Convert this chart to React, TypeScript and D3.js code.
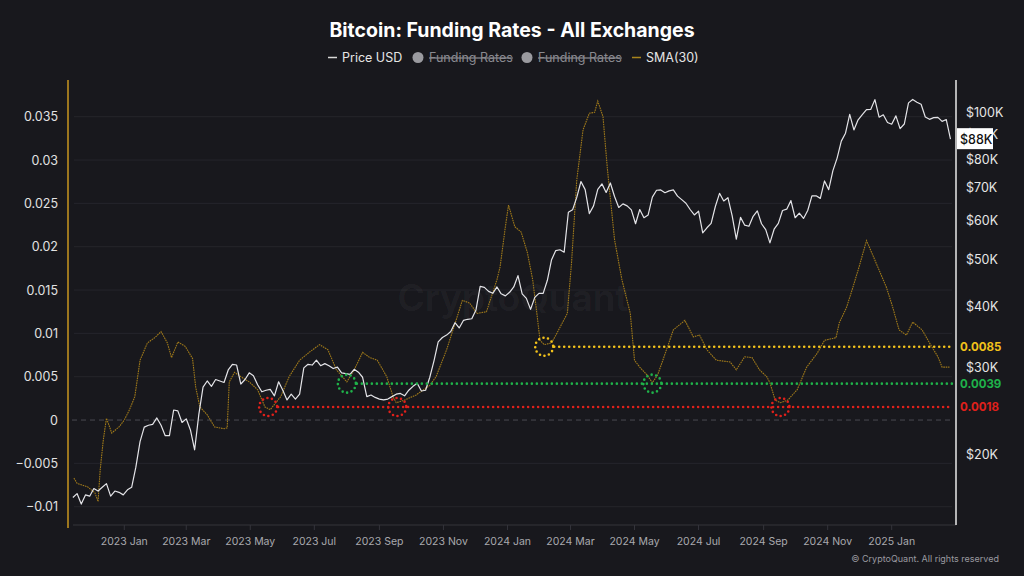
import React from "react";
import * as d3 from "d3";

const TITLE = "Bitcoin: Funding Rates - All Exchanges";
const CREDIT = "© CryptoQuant. All rights reserved";
const WATERMARK = "CryptoQuant";

// BTC price (USD thousands), one value every 4 days starting 2022-11-13
const PRICE_START = "2022-11-13";
const PRICE_STEP_DAYS = 4;
const priceK = [
  16.3, 16.6, 15.8, 16.5, 16.4, 17.0, 16.8, 17.1, 17.4, 16.4, 16.8, 16.7, 16.5,
  16.9, 17.1, 18.8, 21.2, 22.7, 22.9, 23.0, 23.7, 22.9, 21.8, 21.8, 24.6, 24.5, 23.2, 23.6,
  22.4, 20.4, 24.1, 27.4, 28.2, 27.5, 28.4, 28.2, 28.0, 29.7, 30.5, 30.4, 27.8, 28.4, 29.3,
  28.9, 27.7, 26.8, 27.0, 27.1, 26.3, 28.1, 27.0, 25.8, 26.5, 25.9, 26.5, 30.0, 30.5, 30.4,
  31.1, 30.3, 30.6, 30.3, 29.9, 30.1, 29.3, 29.2, 29.1, 29.8, 29.4, 28.7, 26.2, 26.4, 26.1,
  25.9, 25.8, 25.9, 26.2, 26.5, 26.6, 26.3, 27.0, 27.5, 27.9, 26.9, 27.0, 28.7, 31.0, 33.9,
  34.6, 35.0, 35.6, 37.1, 36.2, 37.5, 37.7, 37.8, 39.4, 44.0, 43.8, 43.0, 42.6, 43.9, 42.5, 42.1,
  42.8, 43.9, 46.3, 42.5, 41.6, 39.5, 41.8, 42.6, 42.6, 45.3, 49.9, 52.1, 52.3, 51.7, 62.4, 63.1,
  66.9, 72.1, 69.4, 62.0, 64.3, 69.5, 71.3, 68.5, 71.6, 67.2, 63.8, 64.9, 64.3, 63.1, 59.1,
  63.2, 60.8, 61.6, 67.0, 69.2, 69.3, 68.4, 69.0, 69.3, 67.3, 66.2, 65.1, 63.2, 61.6, 62.7,
  56.6, 58.0, 59.2, 64.1, 68.2, 65.8, 66.8, 61.4, 55.0, 60.9, 58.7, 58.4, 61.2, 62.8, 59.1,
  57.5, 54.0, 57.6, 59.2, 62.9, 63.3, 65.9, 60.8, 62.1, 60.6, 62.9, 67.4, 67.4, 66.6, 72.3,
  69.4, 75.9, 80.5, 87.2, 90.5, 98.9, 91.9, 96.4, 98.8, 101.1, 101.2, 106.0, 97.6, 98.7, 95.2,
  94.4, 98.2, 92.5, 94.5, 104.4, 106.1, 104.7, 103.7, 97.7, 96.6, 97.4, 97.5, 95.7, 96.5, 88.0,
];

// Funding rates SMA(30)
const smaDates = [
  "2022-11-14", "2022-11-17", "2022-11-27", "2022-12-04", "2022-12-07", "2022-12-09", "2022-12-12",
  "2022-12-15", "2022-12-18", "2022-12-20", "2022-12-27", "2023-01-01", "2023-01-06", "2023-01-11",
  "2023-01-16", "2023-01-23", "2023-01-30", "2023-02-05", "2023-02-11", "2023-02-15", "2023-02-21",
  "2023-02-28", "2023-03-07", "2023-03-10", "2023-03-14", "2023-03-21", "2023-03-28", "2023-04-06",
  "2023-04-09", "2023-04-11", "2023-04-16", "2023-04-22", "2023-04-30", "2023-05-08", "2023-05-15",
  "2023-05-20", "2023-05-30", "2023-06-07", "2023-06-17", "2023-06-26", "2023-07-06", "2023-07-14",
  "2023-07-22", "2023-08-01", "2023-08-08", "2023-08-16", "2023-08-23", "2023-08-30", "2023-09-08",
  "2023-09-14", "2023-09-17", "2023-09-25", "2023-10-06", "2023-10-19", "2023-10-25", "2023-11-04",
  "2023-11-13", "2023-11-19", "2023-11-26", "2023-12-03", "2023-12-12", "2023-12-22", "2023-12-25",
  "2023-12-30", "2024-01-02", "2024-01-08", "2024-01-14", "2024-01-20", "2024-01-25", "2024-01-29",
  "2024-02-01", "2024-02-05", "2024-02-12", "2024-02-17", "2024-02-27", "2024-03-02", "2024-03-07",
  "2024-03-13", "2024-03-19", "2024-03-24", "2024-03-27", "2024-04-01", "2024-04-05", "2024-04-12",
  "2024-04-19", "2024-04-27", "2024-05-01", "2024-05-06", "2024-05-13", "2024-05-18", "2024-05-23",
  "2024-05-28", "2024-06-07", "2024-06-18", "2024-06-26", "2024-07-02", "2024-07-09", "2024-07-18",
  "2024-07-31", "2024-08-06", "2024-08-14", "2024-08-21", "2024-08-28", "2024-09-04", "2024-09-07",
  "2024-09-12", "2024-09-17", "2024-09-24", "2024-10-03", "2024-10-12", "2024-10-22", "2024-10-29",
  "2024-11-09", "2024-11-12", "2024-11-19", "2024-11-25", "2024-12-01", "2024-12-08", "2024-12-13",
  "2024-12-20", "2024-12-27", "2025-01-02", "2025-01-08", "2025-01-15", "2025-01-21", "2025-01-30",
  "2025-02-06", "2025-02-14", "2025-02-18", "2025-02-25",
];
const smaValues = [
  -0.0067, -0.0073, -0.0077, -0.0084, -0.0094, -0.0058, -0.0023,
  0.0002, -0.0008, -0.0015, -0.0008, 0.0, 0.0012, 0.0027,
  0.0069, 0.0089, 0.0095, 0.0102, 0.0089, 0.0072, 0.009,
  0.0085, 0.0071, 0.0038, 0.0015, 0.0006, -0.0008, -0.001,
  -0.0009, 0.0044, 0.0055, 0.005, 0.0044, 0.0035, 0.0015,
  0.0012, 0.0027, 0.005, 0.0069, 0.0078, 0.0087, 0.0081,
  0.0058, 0.0044, 0.0058, 0.0078, 0.0072, 0.0069, 0.005,
  0.0027, 0.002, 0.0023, 0.0029, 0.004, 0.005, 0.0081,
  0.0115, 0.0138, 0.0135, 0.0123, 0.0125, 0.0162, 0.0177,
  0.0223, 0.0248, 0.0223, 0.0217, 0.0193, 0.0162, 0.0123,
  0.0092, 0.0087, 0.0089, 0.01, 0.0123, 0.0181, 0.0277,
  0.0335, 0.0354, 0.0355, 0.0368, 0.035, 0.0292, 0.0208,
  0.0162, 0.0123, 0.0069, 0.0061, 0.0052, 0.0043, 0.0052,
  0.0069, 0.0104, 0.0115, 0.0096, 0.0098, 0.0081, 0.0069,
  0.0067, 0.0058, 0.0073, 0.0072, 0.0058, 0.005, 0.0043,
  0.0023, 0.002, 0.0023, 0.0035, 0.0061, 0.0077, 0.0092,
  0.0095, 0.0112, 0.013, 0.0153, 0.0177, 0.0207, 0.0193,
  0.0173, 0.0153, 0.013, 0.0104, 0.0098, 0.0113, 0.0104,
  0.0089, 0.0073, 0.0061, 0.0061,
];

const leftTicks = [-0.01, -0.005, 0, 0.005, 0.01, 0.015, 0.02, 0.025, 0.03, 0.035];
const rightTicks = [20000, 30000, 40000, 50000, 60000, 70000, 80000, 90000, 100000];
const monthTicks = [
  "2023-01-01", "2023-03-01", "2023-05-01", "2023-07-01", "2023-09-01", "2023-11-01",
  "2024-01-01", "2024-03-01", "2024-05-01", "2024-07-01", "2024-09-01", "2024-11-01", "2025-01-01",
];
const monthLabels = [
  "2023 Jan", "2023 Mar", "2023 May", "2023 Jul", "2023 Sep", "2023 Nov",
  "2024 Jan", "2024 Mar", "2024 May", "2024 Jul", "2024 Sep", "2024 Nov", "2025 Jan",
];
const lastPriceLabel = "$88K";

// Hand-drawn support levels (as drawn) and their labels
const levelValues = [0.00846, 0.0042, 0.0015];
const levelLabels = ["0.0085", "0.0039", "0.0018"];
const levelColors = ["#f2c21b", "#1fb24a", "#e0201b"];
const markerDates = [
  ["2024-02-05"],
  ["2023-08-01", "2024-05-18"],
  ["2023-05-18", "2023-09-18", "2024-09-17"],
];

const BG = "#18181d";
const FONT = "Inter, 'Noto Sans', sans-serif";

const W = 1024;
const H = 576;
const L = 68;
const R = 956;
const T = 80;
const B = 525;

const parse = (s: string) => new Date(s + "T00:00:00Z");

export default function App() {
  const x = d3
    .scaleUtc()
    .domain([parse("2023-01-01"), parse("2025-01-01")])
    .range([124.3, 891.7]);
  const yL = d3.scaleLinear().domain([-0.01, 0.035]).range([506.7, 116.7]);
  const yR = d3.scaleLog().domain([20000, 100000]).range([454, 112]);

  const start = parse(PRICE_START);
  const priceData = priceK.map((v, i) => ({
    d: d3.utcDay.offset(start, i * PRICE_STEP_DAYS),
    v: v * 1000,
  }));
  const smaData = smaDates.map((s, i) => ({ d: parse(s), v: smaValues[i] }));

  const priceLine = d3
    .line<{ d: Date; v: number }>()
    .x((p) => x(p.d))
    .y((p) => yR(p.v))
    .curve(d3.curveLinear)(priceData) as string;
  const smaLine = d3
    .line<{ d: Date; v: number }>()
    .x((p) => x(p.d))
    .y((p) => yL(p.v))
    .curve(d3.curveLinear)(smaData) as string;

  const last = priceData[priceData.length - 1];
  const lastY = yR(last.v);
  const fmtK = (v: number) => `$${Math.round(v / 1000)}K`;
  const fmtL = (v: number) => d3.format("")(+v.toPrecision(3));

  const dotStyle = {
    strokeWidth: 2.6,
    strokeLinecap: "round" as const,
    strokeDasharray: "0 5",
    fill: "none",
  };

  return (
    <div style={{ width: W, height: H, background: BG }}>
      <style>{`body{margin:0;background:${BG};}`}</style>
      <svg width={W} height={H} style={{ display: "block", background: BG }} fontFamily={FONT}>
        <defs>
          <clipPath id="plot">
            <rect x={L + 1} y={T} width={R - L - 4} height={B - T} />
          </clipPath>
        </defs>

        {/* Title */}
        <text x={512} y={37} textAnchor="middle" fill="#ffffff" fontSize={19.5} fontWeight={700}>
          {TITLE}
        </text>

        {/* Legend */}
        <g fontSize={12.5}>
          <line x1={328} x2={337} y1={57.5} y2={57.5} stroke="#d8d8d8" strokeWidth={1.5} />
          <text x={342} y={62} fill="#e6e6e6">Price USD</text>
          <circle cx={418} cy={57.5} r={5.5} fill="#9a9a9f" />
          <text x={429} y={62} fill="#8a8a90" textDecoration="line-through">Funding Rates</text>
          <circle cx={527} cy={57.5} r={5.5} fill="#9a9a9f" />
          <text x={538} y={62} fill="#8a8a90" textDecoration="line-through">Funding Rates</text>
          <line x1={632} x2={641} y1={57.5} y2={57.5} stroke="#a8841c" strokeWidth={1.5} />
          <text x={646} y={62} fill="#e6e6e6">SMA(30)</text>
        </g>

        {/* Gridlines */}
        {leftTicks.map((t) =>
          t === 0 ? null : (
            <line key={t} x1={L + 6} x2={R - 4} y1={yL(t)} y2={yL(t)} stroke="#25252b" strokeWidth={1} />
          )
        )}
        <line x1={L + 4} x2={R - 4} y1={yL(0)} y2={yL(0)} stroke="#4a4a52" strokeWidth={1} strokeDasharray="5 4" />

        {/* Watermark */}
        <text x={513} y={311} textAnchor="middle" fill="#ffffff" fillOpacity={0.05} fontSize={37} fontWeight={600}>
          {WATERMARK}
        </text>

        {/* X axis */}
        <line x1={L + 5} x2={R} y1={B} y2={B} stroke="#34343b" strokeWidth={1} />
        {monthTicks.map((m, i) => {
          const px = x(parse(m));
          return (
            <g key={m}>
              <line x1={px} x2={px} y1={B} y2={B + 5} stroke="#34343b" />
              <text x={px} y={545} textAnchor="middle" fill="#a9a9ae" fontSize={10.5}>
                {monthLabels[i]}
              </text>
            </g>
          );
        })}

        {/* Left axis */}
        <line x1={L} x2={L} y1={T} y2={B + 3} stroke="#c9961f" strokeWidth={1.5} />
        {leftTicks.map((t) => (
          <text key={t} x={58} y={yL(t) + 4.5} textAnchor="end" fill="#e2e2e2" fontSize={12.5}>
            {fmtL(t)}
          </text>
        ))}

        {/* Right axis */}
        <line x1={R} x2={R} y1={T} y2={B} stroke="#e8e8e8" strokeWidth={1.5} />
        {rightTicks.map((t) => (
          <text key={t} x={966} y={yR(t) + 4.5} fill="#e6e6e6" fontSize={12.5}>
            {fmtK(t)}
          </text>
        ))}

        {/* Series */}
        <g clipPath="url(#plot)">
          <path d={smaLine} fill="none" stroke="#a07a1a" strokeWidth={1.1} strokeDasharray="1.6 0.8" />
          <path d={priceLine} fill="none" stroke="#e4e4e8" strokeWidth={1.2} strokeLinejoin="round" />
        </g>

        {/* Levels and markers */}
        {levelValues.map((lv, i) => {
          const yy = yL(lv);
          const firstX = x(parse(markerDates[i][0]));
          return (
            <g key={i}>
              <line x1={firstX + 10} x2={952} y1={yy} y2={yy} stroke={levelColors[i]} {...dotStyle} />
              {markerDates[i].map((md) => (
                <circle key={md} cx={x(parse(md))} cy={yy} r={9} stroke={levelColors[i]} {...dotStyle} strokeDasharray="0 4.6" />
              ))}
              <text x={960} y={yy + 4} fill={levelColors[i]} fontSize={11.5} fontWeight={700}>
                {levelLabels[i]}
              </text>
            </g>
          );
        })}

        {/* Last price tag */}
        <rect x={957} y={lastY - 11} width={36} height={21} fill="#ffffff" />
        <text x={960} y={lastY + 4.5} fill="#111" fontSize={12.5} fontWeight={500}>
          {lastPriceLabel}
        </text>

        {/* Credit */}
        <text x={999} y={562} textAnchor="end" fill="#9a9aa0" fontSize={9}>
          {CREDIT}
        </text>
      </svg>
    </div>
  );
}
